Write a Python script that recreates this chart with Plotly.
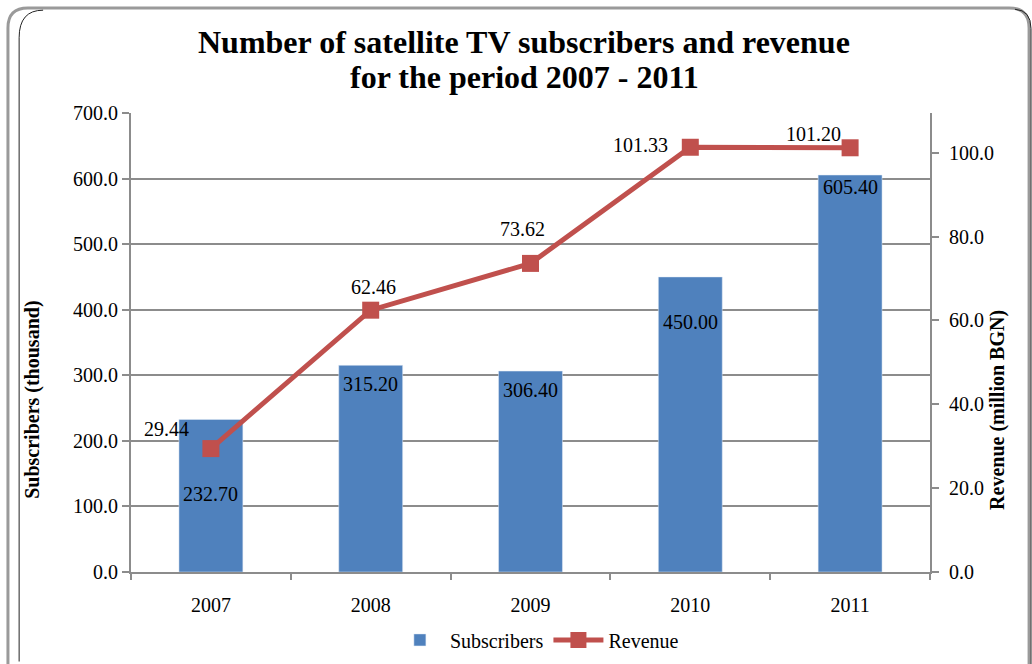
import plotly.graph_objects as go

# Source data
years = ["2007", "2008", "2009", "2010", "2011"]
subscribers = [232.70, 315.20, 306.40, 450.00, 605.40]   # thousand
revenue = [29.44, 62.46, 73.62, 101.33, 101.20]          # million BGN

# Label placement offsets (pixels) for the value labels
sub_label_dy = [-75, -19, -19, -45, -12]
rev_label_dx = [-44, 3, -8, -50, -37]
rev_label_dy = [20, 23, 34, 2, 14]

BLUE = "#4F81BD"
RED = "#C0504D"
GRID = "#8c8c8c"
FONT = "Liberation Serif, Times New Roman, serif"
TXT = dict(family=FONT, size=20, color="black")
REV_RANGE = [0, 109.5]

fig = go.Figure()
fig.add_trace(go.Bar(
    x=years, y=subscribers, name="Subscribers", marker_color=BLUE,
    width=0.4, yaxis="y",
))
fig.add_trace(go.Scatter(
    x=years, y=revenue, name="Revenue", yaxis="y2", mode="lines+markers",
    line=dict(color=RED, width=5),
    marker=dict(symbol="square", size=17, color=RED),
))

annotations = []
for i, (v, dy) in enumerate(zip(subscribers, sub_label_dy)):
    annotations.append(dict(
        x=i, y=v, xref="x", yref="y", text=f"{v:.2f}", showarrow=False,
        xanchor="center", yanchor="middle", yshift=dy, font=TXT,
    ))
for i, (v, dx, dy) in enumerate(zip(revenue, rev_label_dx, rev_label_dy)):
    annotations.append(dict(
        x=i, y=v, xref="x", yref="y2", text=f"{v:.2f}", showarrow=False,
        xanchor="center", yanchor="middle", xshift=dx, yshift=dy, font=TXT,
    ))
annotations += [
    dict(x=-0.1227, y=0.375, xref="paper", yref="paper", textangle=-90,
         xanchor="center", yanchor="middle",
         text="<b>Subscribers (thousand)</b>", showarrow=False, font=TXT),
    dict(x=1.085, y=0.353, xref="paper", yref="paper", textangle=-90,
         xanchor="center", yanchor="middle",
         text="<b>Revenue (million BGN)</b>", showarrow=False, font=TXT),
    dict(x=0.4919, y=1.154, xref="paper", yref="paper", showarrow=False,
         xanchor="center", yanchor="middle",
         text="<b>Number of satellite TV subscribers and revenue</b>",
         font=dict(family=FONT, size=32, color="black")),
    dict(x=0.4919, y=1.079, xref="paper", yref="paper", showarrow=False,
         xanchor="center", yanchor="middle",
         text="<b>for the period 2007 - 2011</b>",
         font=dict(family=FONT, size=32, color="black")),
]

axis_common = dict(
    showline=True, linecolor=GRID, linewidth=2, tickcolor=GRID,
    tickwidth=2, tickfont=TXT,
)

# rounded outer frame in paper coordinates
fx0, fx1, fy0, fy1 = -0.154, 1.124, -0.205, 1.229
rx, ry = 0.025, 0.0436
frame = (f"M {fx0},{fy0} L {fx0},{fy1 - ry} Q {fx0},{fy1} {fx0 + rx},{fy1} "
         f"L {fx1 - rx},{fy1} Q {fx1},{fy1} {fx1},{fy1 - ry} L {fx1},{fy0}")
ix0, ix1, iy1 = -0.140, 1.1264, 1.224
inner = (f"M {ix0},{fy0 + 0.01} L {ix0},{iy1 - 0.06} Q {ix0},{iy1} {ix0 + 0.03},{iy1} "
         f"M {ix1 - 0.02},{iy1 + 0.002} Q {ix1},{iy1} {ix1},{iy1 - 0.04} L {ix1},{fy0}")

fig.update_layout(
    width=1032, height=664,
    margin=dict(l=131, r=102, t=113, b=92, autoexpand=False),
    paper_bgcolor="white", plot_bgcolor="white",
    font=dict(family=FONT, color="black"),
    xaxis=dict(
        type="category", range=[-0.5, 4.5], tickson="boundaries",
        ticks="outside", ticklen=6, ticklabelstandoff=14, showgrid=False,
        **axis_common,
    ),
    yaxis=dict(
        range=[0, 700], dtick=100, tickformat=".1f", ticks="outside",
        ticklen=7, showgrid=True, gridcolor=GRID, gridwidth=2,
        zeroline=False, **axis_common,
    ),
    yaxis2=dict(
        range=REV_RANGE, dtick=20, tickformat=".1f", overlaying="y",
        side="right", ticks="outside", ticklen=7, ticklabelstandoff=6,
        showgrid=False, zeroline=False, **axis_common,
    ),
    # inner half of the crossing tick marks on the revenue axis
    yaxis3=dict(
        range=REV_RANGE, dtick=20, overlaying="y", side="right", anchor="x",
        ticks="inside", ticklen=6, tickcolor=GRID, tickwidth=2,
        showticklabels=False, showgrid=False, zeroline=False, showline=False,
    ),
    showlegend=True,
    legend=dict(
        orientation="h", x=0.508, xanchor="center", y=-0.148, yanchor="middle",
        font=TXT, bgcolor="rgba(0,0,0,0)", itemwidth=50,
    ),
    annotations=annotations,
    shapes=[
        dict(type="path", xref="paper", yref="paper", layer="above",
             path=frame, line=dict(color="#9a9a9a", width=3)),
        dict(type="path", xref="paper", yref="paper", layer="above",
             path=inner, line=dict(color="#222222", width=1)),
    ],
)

fig.write_html("out.html")
